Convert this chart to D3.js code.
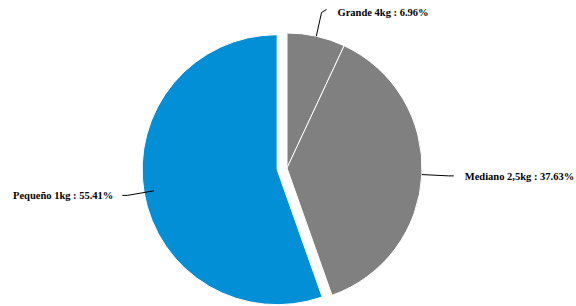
<!DOCTYPE html>
<html>
<head>
<meta charset="utf-8">
<script src="https://cdn.jsdelivr.net/npm/d3@7"></script>
<style>
  body { margin: 0; background: #fff; }
  svg text { font-family: "Liberation Serif", "Times New Roman", serif; font-weight: bold; font-size: 10.5px; fill: #000; }
</style>
</head>
<body>
<div id="chart"></div>
<script>
// pie data, clockwise from 12 o'clock
const categories = ['Grande 4kg', 'Mediano 2,5kg', 'Pequeño 1kg'];
const shares = [6.96, 37.63, 55.41];
const labels = ['Grande 4kg : 6.96%', 'Mediano 2,5kg : 37.63%', 'Pequeño 1kg : 55.41%'];
const colors = ['#808080', '#808080', '#038fd5'];
const exploded = [0, 0, 10];

const w = 576, h = 306;
const cx = 287, cy = 168, r = 135;

const svg = d3.select('#chart').append('svg')
  .attr('width', w).attr('height', h);

const g = svg.append('g').attr('transform', 'translate(' + cx + ',' + cy + ')');

const data = categories.map((c, i) => ({ name: c, value: shares[i], label: labels[i], color: colors[i], off: exploded[i] }));

const pie = d3.pie().sort(null).value(d => d.value);
const arcs = pie(data);
const arc = d3.arc().innerRadius(0).outerRadius(r);

// point on a circle of radius rr at angle a (d3 angle: 0 = top, clockwise)
function pt(a, rr) { return [Math.sin(a) * rr, -Math.cos(a) * rr]; }

g.selectAll('path.slice')
  .data(arcs)
  .join('path')
  .attr('class', 'slice')
  .attr('d', arc)
  .attr('fill', d => d.data.color)
  .attr('stroke', '#fff')
  .attr('stroke-width', 1)
  .attr('transform', d => {
    const m = (d.startAngle + d.endAngle) / 2;
    const o = pt(m, d.data.off);
    return 'translate(' + o[0] + ',' + o[1] + ')';
  });

// leader lines + labels
const line = d3.line();
arcs.forEach(d => {
  const m = (d.startAngle + d.endAngle) / 2;
  const top = Math.abs(Math.sin(m)) < 0.5;
  const p0 = pt(m, r);
  const p1 = pt(m, r * (top ? 1.18 : 1.2));
  const right = Math.sin(m) >= 0;
  const p2 = [p1[0] + (right ? 5 : -5), p1[1] - (top ? 3 : 0)];
  g.append('path')
    .attr('d', line([p0, p1, p2]))
    .attr('fill', 'none')
    .attr('stroke', '#000')
    .attr('stroke-width', 1);
  g.append('text')
    .attr('x', p2[0] + (right ? 11 : -9))
    .attr('y', p2[1] + (top ? 6 : 4))
    .attr('text-anchor', right ? 'start' : 'end')
    .text(d.data.label);
});
</script>
</body>
</html>
